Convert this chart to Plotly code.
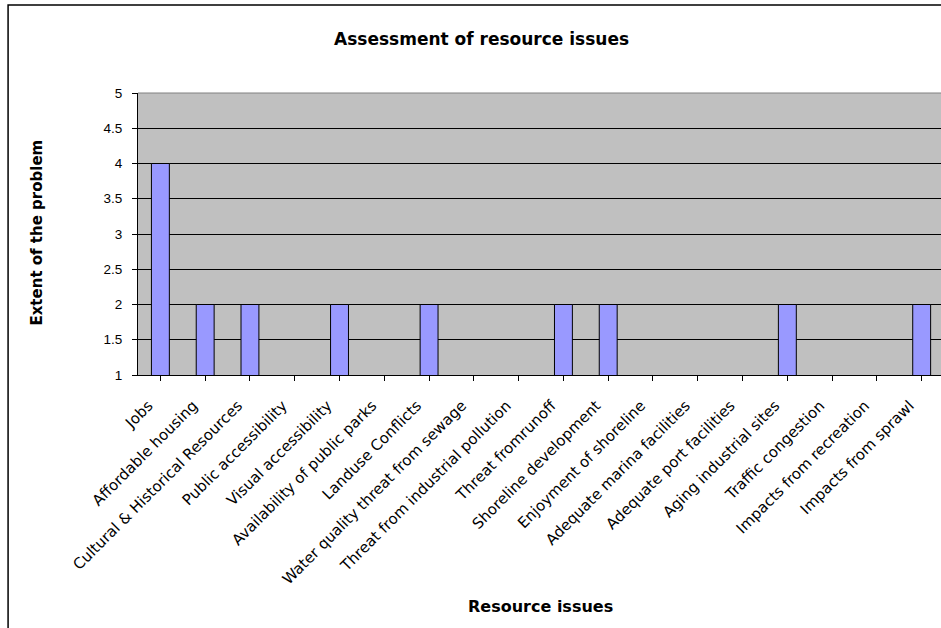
import plotly.graph_objects as go

categories = ["Jobs", "Affordable housing", "Cultural & Historical Resources",
              "Public accessibility", "Visual accessibility", "Availability of public parks",
              "Landuse Conflicts", "Water quality threat from sewage",
              "Threat from industrial pollution", "Threat fromrunoff",
              "Shoreline development", "Enjoyment of shoreline",
              "Adequate marina facilities", "Adequate port facilities",
              "Aging industrial sites", "Traffic congestion",
              "Impacts from recreation", "Impacts from sprawl"]
values = [4, 2, 2, 1, 2, 1, 2, 1, 1, 2, 2, 1, 1, 1, 2, 1, 1, 2]
y_ticks = [1, 1.5, 2, 2.5, 3, 3.5, 4, 4.5, 5]

W, H = 941, 628
L, R, T, B = 137.5, 0, 93, 253
PW, PH = W - L - R, H - T - B

def px(x):
    return (x - L) / PW

def py(y):
    return (H - B - y) / PH

FONT = "Liberation Sans, Arial, sans-serif"
WIDE = "DejaVu Sans, Liberation Sans, sans-serif"

fig = go.Figure()
fig.add_trace(go.Bar(
    x=list(range(len(categories))), y=values,
    marker=dict(color="#9999FF",
                line=dict(color="black", width=[1 if v > 1 else 0 for v in values])),
    width=0.4,
))

fig.update_layout(
    width=W, height=H,
    margin=dict(l=L, r=R, t=T, b=B, pad=0),
    paper_bgcolor="white", plot_bgcolor="#C0C0C0",
    showlegend=False,
    font=dict(family=FONT, size=13, color="black"),
)

fig.update_xaxes(
    tickmode="array", tickvals=list(range(len(categories))), ticktext=categories,
    range=[-0.5, -0.5 + PW / 44.81],
    tickangle=-45, tickson="boundaries", ticks="outside", ticklen=5,
    tickcolor="black", showline=True, linecolor="black", linewidth=1,
    showgrid=False, zeroline=False, ticklabelstandoff=10, ticklabelshift=-12,
    tickfont=dict(family=WIDE, size=15, color="black"),
)
fig.update_yaxes(
    range=[1, 5], tickmode="array", tickvals=y_ticks,
    ticktext=[f"{v:g}" for v in y_ticks],
    ticks="outside", ticklen=5, tickcolor="black",
    showline=True, linecolor="black", linewidth=1,
    showgrid=True, gridcolor="black", gridwidth=1, zeroline=False,
    ticklabelstandoff=7,
    tickfont=dict(family=FONT, size=13.5, color="black"),
)

# plot area top border (gray)
fig.add_shape(type="line", xref="paper", yref="paper", x0=0, x1=1, y0=1, y1=1,
              line=dict(color="#808080", width=1))
# chart area border
fig.add_shape(type="rect", xref="paper", yref="paper",
              x0=px(7.5), x1=px(960), y0=py(650), y1=py(5),
              line=dict(color="black", width=1.5), fillcolor="rgba(0,0,0,0)")

fig.add_annotation(text="<b>Assessment of resource issues</b>", xref="paper", yref="paper",
                   x=px(481.5), y=py(39), showarrow=False, xanchor="center", yanchor="middle",
                   font=dict(family=WIDE, size=17, color="black"))
fig.add_annotation(text="<b>Resource issues</b>", xref="paper", yref="paper",
                   x=px(540), y=py(606), showarrow=False, xanchor="center", yanchor="middle",
                   font=dict(family=WIDE, size=16, color="black"))
fig.add_annotation(text="<b>Extent of the problem</b>", xref="paper", yref="paper",
                   x=px(36), y=py(233), showarrow=False, xanchor="center", yanchor="middle",
                   textangle=-90, font=dict(family=WIDE, size=15, color="black"))

fig.write_html("out.html")
